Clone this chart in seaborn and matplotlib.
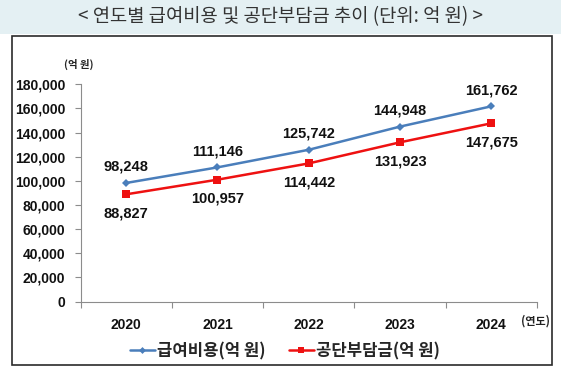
import numpy as np
import pandas as pd
import matplotlib
matplotlib.use("Agg")
import matplotlib.pyplot as plt
import matplotlib.patches as mpatches
from matplotlib.lines import Line2D
from matplotlib.ticker import FuncFormatter
import seaborn as sns

# ---- data ----
years = ["2020", "2021", "2022", "2023", "2024"]
benefit_cost = [98248, 111146, 125742, 144948, 161762]      # 급여비용(억 원)
corp_share = [88827, 100957, 114442, 131923, 147675]        # 공단부담금(억 원)
series_names = ["급여비용(억 원)", "공단부담금(억 원)"]
title_text = "< 연도별 급여비용 및 공단부담금 추이 (단위: 억 원) >"
y_unit = "(억 원)"
x_unit = "(연도)"

sns.set_theme(style="white")
plt.rcParams["font.family"] = ["Noto Sans CJK KR", "DejaVu Sans"]

df = pd.DataFrame({
    "year": years * 2,
    "value": benefit_cost + corp_share,
    "series": [series_names[0]] * len(years) + [series_names[1]] * len(years),
})

W, H = 561, 376
fig = plt.figure(figsize=(W / 100, H / 100), dpi=100)
fig.patch.set_facecolor("white")

# top band and frame box
fig.patches.append(mpatches.Rectangle((0, 1 - 34 / H), 1, 34 / H, transform=fig.transFigure,
                                      facecolor="#e4f0f3", edgecolor="none", zorder=-2))
fig.patches.append(mpatches.Rectangle((12 / W, 1 - 365 / H), (552 - 12) / W, (365 - 36) / H,
                                      transform=fig.transFigure, facecolor="none",
                                      edgecolor="#2b2b2b", linewidth=1.2, zorder=-1))
fig.text(0.5, 1 - 17 / H, title_text, ha="center", va="center", fontsize=13.5, color="#333333")

left, right, y0, ytop = 80.5, 537, 301.5, 84.3
ax = fig.add_axes([left / W, 1 - y0 / H, (right - left) / W, (y0 - ytop) / H])
ax.set_facecolor("none")
ax.set_zorder(2)

blue = "#4a7ebb"
red = "#ee1111"
palette = {series_names[0]: blue, series_names[1]: red}
markers = {series_names[0]: "D", series_names[1]: "s"}

sns.lineplot(data=df, x="year", y="value", hue="series", style="series", palette=palette,
             markers=markers, dashes=False, sort=False, linewidth=1.8, markersize=5,
             markeredgewidth=0, ax=ax, legend=False)
for line in ax.lines:
    if line.get_marker() == "s":
        line.set_markersize(6.2)
    else:
        line.set_markersize(4.5)

ax.set_xlim(-0.5, len(years) - 0.5)
ax.set_ylim(0, 180000)
ax.set_yticks(np.arange(0, 180001, 20000))
ax.yaxis.set_major_formatter(FuncFormatter(lambda v, p: f"{int(v):,}"))
ax.set_xticks(range(len(years)))
ax.set_xticklabels(years)
ax.set_xticks(np.arange(-0.5, len(years), 1.0), minor=True)
ax.tick_params(axis="x", which="major", length=0, pad=12)
ax.tick_params(axis="x", which="minor", length=4, direction="out", color="#8c8c8c", width=0.8, bottom=True)
ax.tick_params(axis="y", which="major", length=4, direction="out", color="#8c8c8c", width=0.8, pad=7, left=True)
for lab in ax.get_xticklabels() + ax.get_yticklabels():
    lab.set_fontweight("bold")
    lab.set_fontsize(10)
    lab.set_color("#111111")
    lab.set_family(["Liberation Sans", "DejaVu Sans"])
ax.set_xlabel("")
ax.set_ylabel("")
for s in ["top", "right"]:
    ax.spines[s].set_visible(False)
for s in ["left", "bottom"]:
    ax.spines[s].set_color("#8c8c8c")
    ax.spines[s].set_linewidth(0.8)
ax.grid(False)

for i, (b, c) in enumerate(zip(benefit_cost, corp_share)):
    ax.annotate(f"{b:,}", (i, b), xytext=(0, 11.5), textcoords="offset points", ha="center",
                va="center", fontsize=10.5, fontweight="bold", color="#111111",
                family=["Liberation Sans", "DejaVu Sans"])
    ax.annotate(f"{c:,}", (i, c), xytext=(0, -13.5), textcoords="offset points", ha="center",
                va="center", fontsize=10.5, fontweight="bold", color="#111111",
                family=["Liberation Sans", "DejaVu Sans"])

fig.text(79 / W, 1 - 64 / H, y_unit, ha="center", va="center", fontsize=7.5, fontweight="bold", color="#222222")
fig.text(536 / W, 1 - 321 / H, x_unit, ha="center", va="center", fontsize=8, fontweight="bold", color="#222222")

handles = [Line2D([], [], color=blue, marker="D", markersize=3.5, markeredgewidth=0, linewidth=1.8),
           Line2D([], [], color=red, marker="s", markersize=5, markeredgewidth=0, linewidth=1.8)]
fig.legend(handles, series_names, loc="center", bbox_to_anchor=(285 / W, 1 - 351 / H), ncol=2,
           frameon=False, handlelength=1.5, handletextpad=0.15, columnspacing=1.4,
           prop={"family": ["Noto Sans CJK KR", "DejaVu Sans"], "size": 12, "weight": "bold"})

fig.savefig("out.png", dpi=100)
